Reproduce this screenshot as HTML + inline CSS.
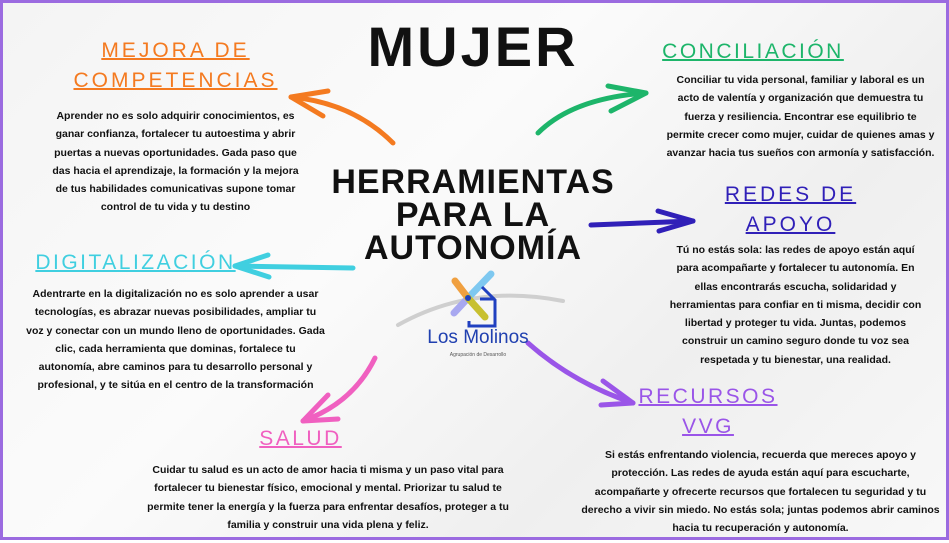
<!DOCTYPE html>
<html><head><meta charset="utf-8"><style>
*{margin:0;padding:0;box-sizing:border-box}
body{width:949px;height:540px;overflow:hidden;background:#fff}
#c{position:relative;width:949px;height:540px;border:3px solid #9b6be0;background:linear-gradient(135deg,#f4f4f4,#fbfbfb 40%,#efefef 70%,#f8f8f8);font-family:"Liberation Sans",sans-serif}
.t{position:absolute;text-align:center;font-weight:bold;font-size:10.5px;line-height:18.3px;color:#111;white-space:nowrap}
.h{position:absolute;text-align:center;font-size:21px;line-height:30px;text-decoration:underline;letter-spacing:2.5px;white-space:nowrap;text-decoration-thickness:2px}
.big{position:absolute;text-align:center;font-weight:bold;color:#111;white-space:nowrap}
svg{position:absolute;left:0;top:0}
</style></head><body><div id="c">
<svg width="949" height="540" viewBox="0 0 949 540">
<g fill="none" stroke-linecap="round" stroke-width="5">
<path d="M390 140 Q350 100 288 94" stroke="#f47a20"/><path d="M288 94 L325 88 M288 94 L320 113" stroke="#f47a20"/>
<path d="M535 130 Q570 95 643 90" stroke="#1db56a"/><path d="M643 90 L605 83 M643 90 L608 108" stroke="#1db56a"/>
<path d="M588 222 L690 218" stroke="#3020b8"/><path d="M690 218 L655 208 M690 218 L656 228" stroke="#3020b8"/>
<path d="M350 265 L232 263" stroke="#40cfe0"/><path d="M232 263 L265 252 M232 263 L266 274" stroke="#40cfe0"/>
<path d="M372 355 Q350 400 300 418" stroke="#f060c0"/><path d="M300 418 L325 392 M300 418 L335 416" stroke="#f060c0"/>
<path d="M525 340 Q570 380 630 400" stroke="#9a55e8"/><path d="M630 400 L600 378 M630 400 L598 402" stroke="#9a55e8"/>
<path d="M395 322 Q470 280 560 298" stroke="#cfcfcf" stroke-width="4"/>
</g>
<g stroke-linecap="round" stroke-width="7" fill="none">
<path d="M465 295 L488 271" stroke="#7ec8f0"/><path d="M465 295 L451 310" stroke="#a8a8f0"/>
<path d="M465 295 L452 278" stroke="#f0a040"/><path d="M465 295 L482 314" stroke="#c8c030"/>
</g>
<circle cx="465" cy="295" r="3" fill="#2040c0"/>
<path d="M479 284 L492 297 L492 323 L466 323 L466 318 M477 296 L492 296" fill="none" stroke="#2040c0" stroke-width="3"/>
</svg>
<div class="big" style="left:310px;top:12px;width:320px;font-size:56px;line-height:64px;letter-spacing:3px">MUJER</div>
<div class="big" style="left:300px;top:163px;width:340px;font-size:34px;line-height:33px;letter-spacing:1px">HERRAMIENTAS<br>PARA LA<br>AUTONOMÍA</div>
<div style="position:absolute;left:410px;top:324px;width:130px;text-align:center;color:#2040b0;font-size:19px">Los Molinos</div>
<div style="position:absolute;left:420px;top:349px;width:110px;text-align:center;color:#555;font-size:5px">Agrupación de Desarrollo</div>

<div class="h" style="left:60px;top:33px;width:225px;color:#f47a20;letter-spacing:3px">MEJORA DE<br>COMPETENCIAS</div>
<div class="t" style="left:30px;top:104px;width:285px">Aprender no es solo adquirir conocimientos, es<br>ganar confianza, fortalecer tu autoestima y abrir<br>puertas a nuevas oportunidades. Gada paso que<br>das hacia el aprendizaje, la formación y la mejora<br>de tus habilidades comunicativas supone tomar<br>control de tu vida y tu destino</div>

<div class="h" style="left:650px;top:34px;width:200px;color:#1db56a">CONCILIACIÓN</div>
<div class="t" style="left:645px;top:68px;width:305px">Conciliar tu vida personal, familiar y laboral es un<br>acto de valentía y organización que demuestra tu<br>fuerza y resiliencia. Encontrar ese equilibrio te<br>permite crecer como mujer, cuidar de quienes amas y<br>avanzar hacia tus sueños con armonía y satisfacción.</div>

<div class="h" style="left:690px;top:177px;width:195px;color:#3020b8;letter-spacing:3px">REDES DE<br>APOYO</div>
<div class="t" style="left:640px;top:238px;width:305px">Tú no estás sola: las redes de apoyo están aquí<br>para acompañarte y fortalecer tu autonomía. En<br>ellas encontrarás escucha, solidaridad y<br>herramientas para confiar en ti misma, decidir con<br>libertad y proteger tu vida. Juntas, podemos<br>construir un camino seguro donde tu voz sea<br>respetada y tu bienestar, una realidad.</div>

<div class="h" style="left:25px;top:245px;width:215px;color:#40cfe0">DIGITALIZACIÓN</div>
<div class="t" style="left:5px;top:282px;width:335px">Adentrarte en la digitalización no es solo aprender a usar<br>tecnologías, es abrazar nuevas posibilidades, ampliar tu<br>voz y conectar con un mundo lleno de oportunidades. Gada<br>clic, cada herramienta que dominas, fortalece tu<br>autonomía, abre caminos para tu desarrollo personal y<br>profesional, y te sitúa en el centro de la transformación</div>

<div class="h" style="left:245px;top:421px;width:105px;color:#f060c0">SALUD</div>
<div class="t" style="left:115px;top:458px;width:420px">Cuidar tu salud es un acto de amor hacia ti misma y un paso vital para<br>fortalecer tu bienestar físico, emocional y mental. Priorizar tu salud te<br>permite tener la energía y la fuerza para enfrentar desafíos, proteger a tu<br>familia y construir una vida plena y feliz.</div>

<div class="h" style="left:615px;top:379px;width:180px;color:#9a55e8">RECURSOS<br>VVG</div>
<div class="t" style="left:570px;top:443px;width:375px">Si estás enfrentando violencia, recuerda que mereces apoyo y<br>protección. Las redes de ayuda están aquí para escucharte,<br>acompañarte y ofrecerte recursos que fortalecen tu seguridad y tu<br>derecho a vivir sin miedo. No estás sola; juntas podemos abrir caminos<br>hacia tu recuperación y autonomía.</div>
</div></body></html>
